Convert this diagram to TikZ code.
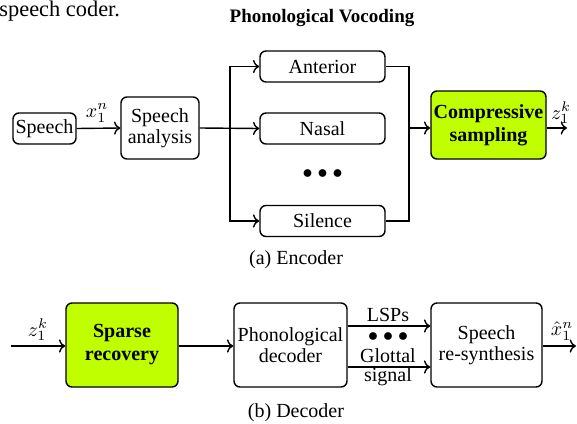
\documentclass[tikz,border=0pt]{standalone}
\usepackage{fontspec}
\setmainfont{Liberation Serif}
\usetikzlibrary{arrows.meta}
\definecolor{limefill}{rgb}{0.75,1,0}
\begin{document}
\begin{tikzpicture}[x=0.5pt,y=-0.5pt,
  txt/.style={font=\fontsize{10}{10.5}\selectfont},
  box/.style={txt, draw, rounded corners=3pt, line width=0.7pt, align=center, inner sep=0pt},
  hot/.style={box, fill=limefill, font=\fontsize{10}{11.5}\selectfont\bfseries},
  wire/.style={line width=0.7pt},
  arr/.style={wire, ->},
  lbl/.style={txt, inner sep=0pt, align=center}]
\useasboundingbox (0,0) rectangle (577,423);

% surrounding text and titles
\node[anchor=base west, inner sep=0pt, font=\fontsize{11.2}{12}\selectfont] (prev) at (-1,17) {speech coder.};
\node[inner sep=0pt, font=\fontsize{9.5}{10}\selectfont\bfseries] (title) at (322,18) {Phonological Vocoding};

% ---------------- encoder ----------------
\node[box, minimum width=31.5pt, minimum height=15.5pt] (speech) at (44.5,128.5) {Speech};
\node[box, minimum width=39pt, minimum height=31pt] (ana) at (160,128) {Speech\\analysis};

\node[box, minimum width=62.5pt, minimum height=15.5pt] (ant) at (322.5,66.5) {Anterior};
\node[box, minimum width=62.5pt, minimum height=15.5pt] (nas) at (322.5,128.5) {Nasal};
\node[lbl] (vdots) at (322.5,174) {$\bullet\hspace{2.5pt}{\bullet}\hspace{2.5pt}{\bullet}$};
\node[box, minimum width=62.5pt, minimum height=15.5pt] (sil) at (322.5,221) {Silence};

\node[hot, minimum width=57.5pt, minimum height=34pt] (comp) at (488.5,125) {Compressive\\sampling};

\coordinate (bus) at (230,128);
\coordinate (merge) at (409,128);
\coordinate (zout) at (567,128);

\draw[arr] (speech.east) -- (ana.west);
\node[lbl] (xin) at (97,113) {$x_1^n$};
\draw[arr] (ana.east) -- (nas.west);
\draw[arr] (bus) |- (ant.west);
\draw[arr] (bus) |- (sil.west);
\draw[wire] (ant.east) -| (merge);
\draw[wire] (sil.east) -| (merge);
\draw[arr] (merge) -- (comp.west |- merge);
\draw[arr] (comp.east |- merge) -- (zout);
\node[lbl] (zk) at (561,113) {$z_1^k$};

\node[txt, inner sep=0pt] (capa) at (296,260) {(a) Encoder};

% ---------------- decoder ----------------
\coordinate (zin) at (11,346);
\coordinate (xout) at (576,346);

\node[hot, minimum width=56pt, minimum height=42pt] (sparse) at (122,345) {Sparse\\recovery};
\node[box, minimum width=56.5pt, minimum height=42pt] (phon) at (290.5,345) {Phonological\\decoder};
\node[box, minimum width=55.5pt, minimum height=42pt] (syn) at (486.5,345) {Speech\\re-synthesis};

\draw[arr] (zin) -- (sparse.west |- zin);
\node[lbl] (zk2) at (38,330) {$z_1^k$};
\draw[arr] (sparse.east |- zin) -- (phon.west |- zin);

\coordinate (lspA) at ([yshift=9.5pt]phon.east);
\coordinate (gloA) at ([yshift=-11pt]phon.east);
\draw[arr] (lspA) -- (lspA -| syn.west);
\draw[arr] (gloA) -- (gloA -| syn.west);
\node[lbl] (lsp) at (388,315) {LSPs};
\node[lbl] (ddots) at (388,337) {$\bullet\hspace{2.5pt}{\bullet}\hspace{2.5pt}{\bullet}$};
\node[lbl] (glo) at (388,356) {Glottal};
\node[lbl] (sig) at (388,377) {signal};

\draw[arr] (syn.east |- xout) -- (xout);
\node[lbl] (xhat) at (562,331) {$\hat{x}_1^n$};

\node[txt, inner sep=0pt] (capb) at (296,413) {(b) Decoder};
\end{tikzpicture}
\end{document}
